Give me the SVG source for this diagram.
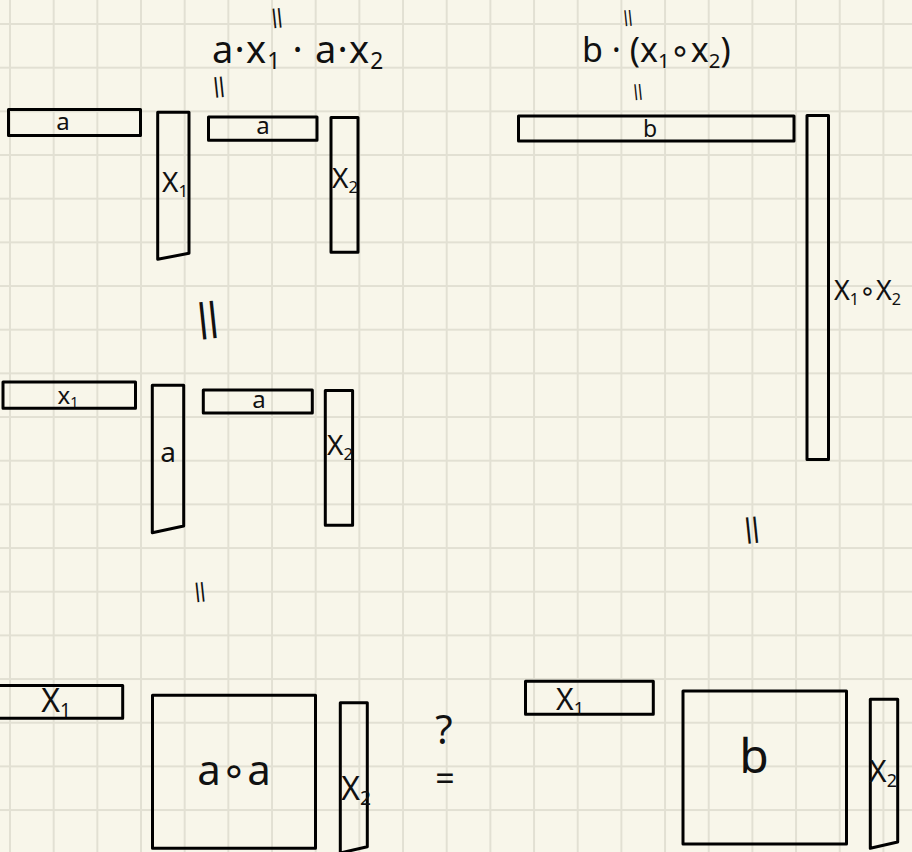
<svg xmlns="http://www.w3.org/2000/svg" width="912" height="852" viewBox="0 0 912 852">
  <style>
    .box { fill: none; stroke: #000; stroke-width: 3; stroke-linejoin: round; }
    text { font-family: "Noto Sans", "DejaVu Sans", sans-serif; fill: #111; }
    .lbl { text-anchor: middle; }
    .sub { font-size: 0.6em; }
    .eq { text-anchor: middle; font-family: "Liberation Sans", Arial, sans-serif; }
  </style>
  <defs>
    <pattern id="grid" patternUnits="userSpaceOnUse" x="-11.835" y="2.165" width="43.67" height="43.67">
      <path d="M21.835 0V43.67M0 21.835H43.67" stroke="#e2e0d3" stroke-width="2" fill="none"/>
    </pattern>
  </defs>
  <rect width="912" height="852" fill="#f8f6ea"/>
  <rect width="912" height="852" fill="url(#grid)"/>

  <!-- top formulas -->
  <g id="formula-left">
    <text x="212" y="63" font-size="38" letter-spacing="1.2">a·x<tspan class="sub" dy="6">1</tspan><tspan dy="-6"> · a·x</tspan><tspan class="sub" dy="6">2</tspan></text>
    <text class="eq" font-size="21" transform="translate(277,18) rotate(-6)" y="5.5">||</text>
    <text class="eq" font-size="22" transform="translate(219,87) rotate(-6)" y="5.7">||</text>
  </g>
  <g id="formula-right">
    <text x="582" y="62" font-size="34">b · (x<tspan class="sub" dy="6">1</tspan><tspan dy="-6">∘x</tspan><tspan class="sub" dy="6">2</tspan><tspan dy="-6">)</tspan></text>
    <text class="eq" font-size="17" transform="translate(628,18) rotate(-6)" y="4.4">||</text>
    <text class="eq" font-size="17" transform="translate(638,92) rotate(-6)" y="4.4">||</text>
  </g>

  <!-- row 1 left -->
  <g id="r1-a"><rect class="box" x="8.5" y="109.5" width="132" height="26"/><text class="lbl" x="63" y="130" font-size="24">a</text></g>
  <g id="r1-x1"><path class="box" d="M157.7 112.3H189V253.3L157.7 259.3Z"/><text class="lbl" x="175" y="192" font-size="28">X<tspan class="sub" dy="5">1</tspan></text></g>
  <g id="r1-a2"><rect class="box" x="208.5" y="117" width="108.5" height="23.3"/><text class="lbl" x="263" y="134" font-size="24">a</text></g>
  <g id="r1-x2"><rect class="box" x="331" y="117.5" width="27" height="134.7"/><text class="lbl" x="345" y="188" font-size="28">X<tspan class="sub" dy="5">2</tspan></text></g>

  <!-- row 1 right -->
  <g id="r1-b"><rect class="box" x="518.5" y="116" width="275.5" height="25"/><text class="lbl" x="650" y="137" font-size="23">b</text></g>
  <g id="r1-x1x2"><rect class="box" x="807" y="115.5" width="21.5" height="344"/><text x="834" y="300" font-size="27">X<tspan class="sub" dy="5">1</tspan><tspan dy="-5">∘X</tspan><tspan class="sub" dy="5">2</tspan></text></g>

  <!-- middle equal -->
  <text class="eq" font-size="40" transform="translate(208,320) rotate(-6)" y="10.4">||</text>

  <!-- row 2 -->
  <g id="r2-x1"><rect class="box" x="3" y="382" width="132.5" height="26.3"/><text class="lbl" x="68" y="404" font-size="24">x<tspan class="sub" dy="3">1</tspan></text></g>
  <g id="r2-a"><path class="box" d="M152.3 385.3H183.7V526L152.3 532.7Z"/><text class="lbl" x="168" y="462" font-size="28">a</text></g>
  <g id="r2-a2"><rect class="box" x="203.3" y="390" width="109" height="23"/><text class="lbl" x="259" y="408" font-size="24">a</text></g>
  <g id="r2-x2"><rect class="box" x="325.3" y="390.5" width="27.3" height="134.8"/><text class="lbl" x="340" y="455" font-size="28">X<tspan class="sub" dy="5">2</tspan></text></g>

  <text class="eq" font-size="21" transform="translate(200,592) rotate(-6)" y="5.5">||</text>
  <text class="eq" font-size="28" transform="translate(752,530) rotate(-6)" y="7.3">||</text>

  <!-- row 3 left -->
  <g id="r3-x1"><rect class="box" x="-5" y="685.5" width="127.7" height="32.8"/><text class="lbl" x="56" y="712" font-size="32">X<tspan class="sub" dy="5">1</tspan></text></g>
  <g id="r3-aa"><rect class="box" x="152.5" y="695.3" width="163" height="153"/><text class="lbl" x="234" y="785" font-size="42">a∘a</text></g>
  <g id="r3-x2"><path class="box" d="M340.3 702.7H367.3V846.7L340.3 853Z"/><text class="lbl" x="356" y="800" font-size="32">X<tspan class="sub" dy="5">2</tspan></text></g>

  <text class="lbl" x="444" y="744" font-size="40" font-family="DejaVu Sans, sans-serif">?</text>
  <text class="lbl" x="445" y="791" font-size="34" font-family="DejaVu Sans, sans-serif">=</text>

  <!-- row 3 right -->
  <g id="r3r-x1"><rect class="box" x="525.5" y="681.3" width="127.8" height="33"/><text class="lbl" x="570" y="710" font-size="30">X<tspan class="sub" dy="5">1</tspan></text></g>
  <g id="r3r-b"><rect class="box" x="683" y="691" width="163.5" height="153"/><text class="lbl" x="754" y="773" font-size="48">b</text></g>
  <g id="r3r-x2"><path class="box" d="M870.3 699.3H897.7V842L870.3 848.3Z"/><text class="lbl" x="883" y="782" font-size="30">X<tspan class="sub" dy="5">2</tspan></text></g>
</svg>
